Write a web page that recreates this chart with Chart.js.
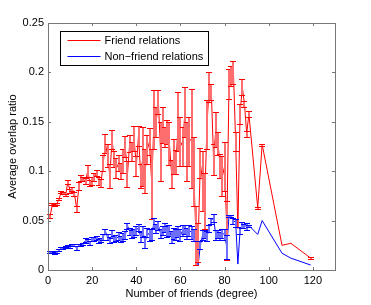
<!DOCTYPE html>
<html>
<head>
<meta charset="utf-8">
<script src="https://cdn.jsdelivr.net/npm/chart.js@4/dist/chart.umd.min.js"></script>
<style>
  html, body { margin: 0; padding: 0; background: #fff; }
  #wrap { width: 371px; height: 305px; }
</style>
</head>
<body>
<div id="wrap"><canvas id="chart"></canvas></div>
<script>
const degrees = [1,2,3,4,5,6,7,8,9,10,11,12,13,14,15,16,17,18,19,20,
  21,22,23,24,25,26,27,28,29,30,31,32,33,34,35,36,37,38,39,40,
  41,42,43,44,45,46,47,48,49,50,51,52,53,54,55,56,57,58,59,60,
  61,62,63,64,65,66,67,68,69,70,71,72,73,74,75,76,77,78,79,80,
  81,82,83,84,85,86,87,88,89,90,91,95,97,106,110,119];

const friendMean = [0.055,0.067,0.066,0.067,0.072,0.079,0.078,0.076,0.089,0.080,
  0.082,0.077,0.062,0.085,0.093,0.092,0.090,0.100,0.088,0.090,
  0.094,0.098,0.090,0.088,0.108,0.128,0.116,0.095,0.132,0.112,
  0.103,0.108,0.100,0.110,0.125,0.097,0.128,0.120,0.133,0.105,
  0.136,0.095,0.115,0.100,0.122,0.130,0.087,0.152,0.150,0.170,
  0.120,0.147,0.135,0.140,0.128,0.097,0.115,0.109,0.150,0.130,
  0.125,0.160,0.120,0.130,0.133,0.100,0.035,0.028,0.108,0.090,
  0.070,0.147,0.185,0.180,0.112,0.142,0.128,0.105,0.095,0.105,
  0.040,0.188,0.196,0.200,0.130,0.042,0.158,0.185,0.168,0.138,
  0.158,0.063,0.127,0.025,0.027,0.012];

const friendErr = [0.002,0.001,0.001,0.001,0.001,0.001,0.001,0.001,0.002,0.002,
  0.002,0.002,0.003,0.004,0.003,0.002,0.003,0.006,0.003,0.004,
  0.004,0.003,0.004,0.004,0.008,0.010,0.012,0.012,0.010,0.008,
  0.010,0.008,0.008,0.012,0.011,0.013,0.009,0.010,0.013,0.010,
  0.010,0.012,0.030,0.022,0.015,0.014,0.035,0.030,0.015,0.012,
  0.030,0.018,0.010,0.012,0.022,0.014,0.018,0.012,0.030,0.025,
  0.020,0.025,0.030,0.025,0.050,0.035,0.030,0.020,0.015,0.030,
  0.028,0.025,0.015,0.008,0.016,0.018,0.012,0.012,0.020,0.025,
  0.030,0.015,0.010,0.012,0.010,0.000,0.010,0.008,0.003,0.003,
  0.003,0.001,0.001,0.000,0.000,0.001];

const nonFriendMean = [0.018,0.018,0.017,0.018,0.020,0.022,0.022,0.023,0.024,0.023,
  0.025,0.025,0.022,0.025,0.025,0.026,0.030,0.029,0.027,0.031,
  0.031,0.032,0.029,0.030,0.033,0.039,0.033,0.030,0.036,0.031,
  0.032,0.034,0.031,0.033,0.035,0.045,0.039,0.036,0.037,0.040,
  0.043,0.033,0.039,0.028,0.038,0.035,0.036,0.048,0.042,0.045,
  0.037,0.040,0.043,0.039,0.040,0.033,0.037,0.036,0.039,0.035,
  0.040,0.041,0.037,0.040,0.038,0.035,0.025,0.005,0.025,0.035,
  0.036,0.034,0.042,0.050,0.053,0.035,0.036,0.034,0.037,0.036,
  0.023,0.055,0.055,0.050,0.048,0.006,0.040,0.046,0.045,0.044,
  0.045,0.036,0.050,0.017,0.012,0.005];

const nonFriendErr = [0.001,0.001,0.001,0.001,0.001,0.001,0.001,0.001,0.001,0.001,
  0.001,0.001,0.002,0.001,0.001,0.001,0.002,0.002,0.002,0.002,
  0.002,0.002,0.002,0.002,0.003,0.003,0.003,0.003,0.004,0.003,
  0.003,0.004,0.003,0.004,0.004,0.003,0.004,0.004,0.004,0.005,
  0.004,0.005,0.006,0.006,0.005,0.006,0.006,0.005,0.005,0.005,
  0.005,0.005,0.005,0.006,0.006,0.006,0.006,0.006,0.006,0.006,
  0.006,0.005,0.006,0.006,0.007,0.006,0.000,0.000,0.004,0.005,
  0.004,0.005,0.004,0.003,0.004,0.005,0.004,0.004,0.005,0.006,
  0.012,0.001,0.001,0.003,0.004,0.000,0.004,0.003,0.002,0.004,
  0.001,0.000,0.000,0.000,0.000,0.000];

const xTicks = [0, 20, 40, 60, 80, 100, 120];
const yTicks = [0, 0.05, 0.1, 0.15, 0.2, 0.25];
const seriesNames = ['Friend relations', 'Non\u2212friend relations'];
const seriesRgb = ['255,0,0', '0,0,255'];
const stemRgb = ['255,110,110', '110,110,255'];
const seriesErrors = [friendErr, nonFriendErr];

const FONT = '"Liberation Sans", Arial, sans-serif';
const toPoints = (xs, ys) => xs.map((x, i) => ({ x: x, y: ys[i] }));

// vertical error bars with small caps, drawn through the y scale
const errorBars = {
  id: 'errorBars',
  afterDatasetsDraw(chart) {
    const ctx = chart.ctx;
    const ys = chart.scales.y;
    chart.data.datasets.forEach((ds, di) => {
      const meta = chart.getDatasetMeta(di);
      const errs = seriesErrors[di];
      ctx.save();
      meta.data.forEach((pt, i) => {
        const e = errs[i];
        if (!e) return;
        const v = ds.data[i].y;
        const top = Math.round(ys.getPixelForValue(v + e)) + 0.5;
        const bot = Math.round(ys.getPixelForValue(v - e)) + 0.5;
        const x = Math.round(pt.x);
        // soft 2px stem, crisp caps
        ctx.lineWidth = 2;
        ctx.strokeStyle = 'rgb(' + stemRgb[di] + ')';
        ctx.beginPath();
        ctx.moveTo(x, top); ctx.lineTo(x, bot);
        ctx.stroke();
        ctx.lineWidth = 1;
        ctx.strokeStyle = 'rgb(' + seriesRgb[di] + ')';
        ctx.beginPath();
        ctx.moveTo(x - 3, top); ctx.lineTo(x + 3, top);
        ctx.moveTo(x - 3, bot); ctx.lineTo(x + 3, bot);
        ctx.stroke();
      });
      ctx.restore();
    });
  }
};

// axes box with inward ticks, and the boxed legend
const frame = {
  id: 'frame',
  afterDraw(chart) {
    const ctx = chart.ctx;
    const a = chart.chartArea;
    const xs = chart.scales.x, ys = chart.scales.y;
    ctx.save();
    ctx.strokeStyle = '#777777';
    ctx.lineWidth = 1;
    ctx.strokeRect(Math.round(a.left) + 0.5, Math.round(a.top) + 0.5,
      Math.round(a.right - a.left), Math.round(a.bottom - a.top));
    ctx.beginPath();
    xTicks.forEach(t => {
      const x = Math.round(xs.getPixelForValue(t)) + 0.5;
      ctx.moveTo(x, a.bottom); ctx.lineTo(x, a.bottom - 3);
      ctx.moveTo(x, a.top); ctx.lineTo(x, a.top + 3);
    });
    yTicks.forEach(t => {
      const y = Math.round(ys.getPixelForValue(t)) + 0.5;
      ctx.moveTo(a.left, y); ctx.lineTo(a.left + 3, y);
      ctx.moveTo(a.right, y); ctx.lineTo(a.right - 3, y);
    });
    ctx.stroke();

    // legend
    const lx = Math.round(a.left) + 12.5, ly = Math.round(a.top) + 8.5;
    ctx.fillStyle = '#fff';
    ctx.fillRect(lx, ly, 148, 34);
    ctx.strokeStyle = '#000';
    ctx.strokeRect(lx, ly, 148, 34);
    ctx.font = '11px ' + FONT;
    ctx.textBaseline = 'middle';
    seriesNames.forEach((name, i) => {
      const y = ly + 9 + i * 16;
      ctx.strokeStyle = 'rgb(' + seriesRgb[i] + ')';
      ctx.beginPath();
      ctx.moveTo(lx + 7, y); ctx.lineTo(lx + 40, y);
      ctx.stroke();
      ctx.fillStyle = '#000';
      ctx.fillText(name, lx + 44, y);
    });
    ctx.restore();
  }
};

new Chart(document.getElementById('chart'), {
  type: 'line',
  data: {
    datasets: [
      { label: seriesNames[0], data: toPoints(degrees, friendMean),
        borderColor: '#ff0000', borderWidth: 1, pointRadius: 0, tension: 0 },
      { label: seriesNames[1], data: toPoints(degrees, nonFriendMean),
        borderColor: '#0000ff', borderWidth: 1, pointRadius: 0, tension: 0 }
    ]
  },
  options: {
    responsive: true,
    maintainAspectRatio: false,
    animation: false,
    events: [],
    layout: { padding: { left: 6, top: 23, right: 36, bottom: 4 } },
    plugins: { legend: { display: false }, tooltip: { enabled: false } },
    scales: {
      x: {
        type: 'linear', min: 0, max: 130,
        afterBuildTicks: s => { s.ticks = xTicks.map(v => ({ value: v })); },
        afterFit: s => { s.height = 31; },
        grid: { display: false, drawTicks: false },
        border: { display: false },
        ticks: { color: '#000', padding: 4, maxRotation: 0, font: { family: FONT, size: 11 } },
        title: { display: true, text: 'Number of friends (degree)', color: '#000', padding: 0,
          font: { family: FONT, size: 11 } }
      },
      y: {
        min: 0, max: 0.25,
        afterBuildTicks: s => { s.ticks = yTicks.map(v => ({ value: v })); },
        afterFit: s => { s.width = 42; },
        grid: { display: false, drawTicks: false },
        border: { display: false },
        ticks: { color: '#000', padding: 4, callback: v => String(v), font: { family: FONT, size: 11 } },
        title: { display: true, text: 'Average overlap ratio', color: '#000', padding: 0,
          font: { family: FONT, size: 11 } }
      }
    }
  },
  plugins: [errorBars, frame]
});
</script>
</body>
</html>
